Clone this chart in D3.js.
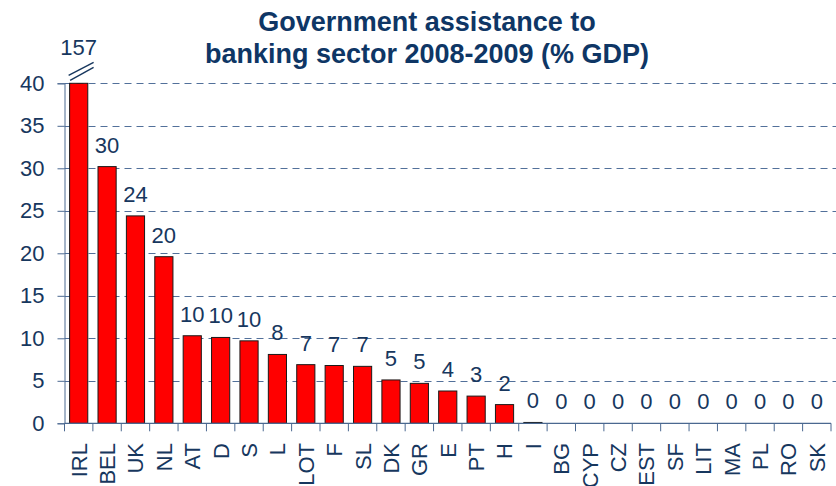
<!DOCTYPE html>
<html>
<head>
<meta charset="utf-8">
<script src="https://cdn.jsdelivr.net/npm/d3@7"></script>
<style>
  html, body { margin: 0; padding: 0; background: #fff; }
  svg { display: block; font-family: Arial, "Liberation Sans", sans-serif; }
</style>
</head>
<body>
<svg id="chart" width="836" height="486"></svg>
<script>
// Country codes, in chart order
const countries = ["IRL","BEL","UK","NL","AT","D","S","L","LOT","F","SL","DK","GR","E","PT","H","I","BG","CYP","CZ","EST","SF","LIT","MA","PL","RO","SK"];
// Government assistance to the banking sector, % of GDP
const assistance = [157,30.2,24.4,19.6,10.3,10.1,9.7,8.1,6.9,6.8,6.7,5.1,4.7,3.8,3.2,2.2,0.1,0,0,0,0,0,0,0,0,0,0];
// Y axis ticks; the axis is cut at its top value
const yTicks = [0,5,10,15,20,25,30,35,40];
const titleLines = ["Government assistance to", "banking sector 2008-2009 (% GDP)"];

const navy = "#17375E";
const axisColor = "#4A6890";
const svg = d3.select("#chart");

const plotLeft = 64.5, plotRight = 831, plotTop = 83.3, plotBottom = 423.3;
const yMax = d3.max(yTicks);

const x = d3.scaleBand().domain(countries).range([plotLeft, plotRight]).paddingInner(0.36).paddingOuter(0.18);
const y = d3.scaleLinear().domain([0, yMax]).range([plotBottom, plotTop]);

// Title
svg.append("g").selectAll("text").data(titleLines).join("text")
  .attr("x", 427).attr("y", (d, i) => 31 + i * 32)
  .attr("text-anchor", "middle")
  .attr("font-size", 27).attr("font-weight", "bold")
  .attr("fill", "#0E3665")
  .text(d => d);

// Dashed gridlines
svg.append("g").selectAll("line").data(yTicks.filter(t => t > 0)).join("line")
  .attr("x1", plotLeft).attr("x2", 836)
  .attr("y1", d => Math.round(y(d)) + 0.5).attr("y2", d => Math.round(y(d)) + 0.5)
  .attr("stroke", "#52709A").attr("stroke-width", 1.1)
  .attr("stroke-dasharray", "7,5");

// Bars (values above the axis top are cut at the top)
const data = countries.map((c, i) => ({ c, v: assistance[i] }));
svg.append("g").selectAll("rect").data(data).join("rect")
  .attr("x", d => x(d.c))
  .attr("width", x.bandwidth())
  .attr("y", d => y(Math.min(d.v, yMax)))
  .attr("height", d => plotBottom - y(Math.min(d.v, yMax)))
  .attr("fill", "#FF0000")
  .attr("stroke", "#1a1a1a").attr("stroke-width", 1);

// Y axis
const yAxis = svg.append("g")
  .attr("transform", `translate(${plotLeft},0)`)
  .call(d3.axisLeft(y).tickValues(yTicks).tickSize(7).tickPadding(13).tickFormat(d3.format("d")));
yAxis.select(".domain").attr("stroke", axisColor);
yAxis.selectAll(".tick line").attr("stroke", axisColor);
yAxis.selectAll("text").attr("font-size", 22).attr("fill", navy).attr("font-family", "Arial, 'Liberation Sans', sans-serif");

// X axis: ticks sit on the category boundaries
const xAxisG = svg.append("g").attr("transform", `translate(0,${plotBottom})`);
xAxisG.append("line").attr("x1", plotLeft).attr("x2", plotRight).attr("stroke", axisColor).attr("stroke-width", 1.2);
const boundaries = d3.range(countries.length + 1).map(i => plotLeft + i * (plotRight - plotLeft) / countries.length);
xAxisG.selectAll("line.tk").data(boundaries).join("line").attr("class", "tk")
  .attr("x1", d => d).attr("x2", d => d).attr("y1", 0).attr("y2", 8)
  .attr("stroke", axisColor);

// Category labels, rotated
svg.append("g").selectAll("text").data(countries).join("text")
  .attr("transform", d => `translate(${x(d) + x.bandwidth() / 2},443) rotate(-90)`)
  .attr("text-anchor", "end")
  .attr("dy", "0.36em")
  .attr("font-size", 22).attr("fill", navy)
  .text(d => d);

// Value labels
svg.append("g").selectAll("text").data(data).join("text")
  .attr("x", d => x(d.c) + x.bandwidth() / 2)
  .attr("y", d => d.v > yMax ? y(yMax) - 28 : y(d.v) - 14)
  .attr("text-anchor", "middle")
  .attr("font-size", 22).attr("fill", navy)
  .text(d => Math.round(d.v));

// Break marks above the cut bar
const cut = data.filter(d => d.v > yMax);
const breaks = svg.append("g");
cut.forEach(d => {
  const x0 = x(d.c) - 1, y0 = y(yMax);
  [0, 5].forEach(o => {
    breaks.append("line")
      .attr("x1", x0 + o * 0.3).attr("y1", y0 - 8 + o)
      .attr("x2", x0 + 25).attr("y2", y0 - 21 + o)
      .attr("stroke", navy).attr("stroke-width", 1.4);
  });
});
</script>
</body>
</html>
